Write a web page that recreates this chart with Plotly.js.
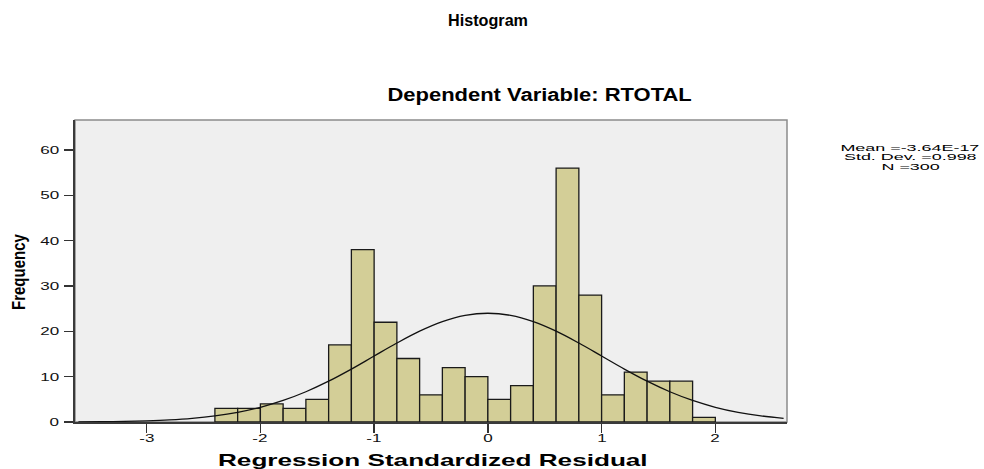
<!DOCTYPE html>
<html>
<head>
<meta charset="utf-8">
<script src="https://cdn.plot.ly/plotly-3.0.1.min.js"></script>
<style>html,body{margin:0;padding:0;background:#fff;}#chart{width:984px;height:469px;}</style>
</head>
<body>
<div id="chart"></div>
<script>
// Histogram bins (width 0.2), centres and counts
const binCenters = [-2.3,-2.1,-1.9,-1.7,-1.5,-1.3,-1.1,-0.9,-0.7,-0.5,-0.3,-0.1,0.1,0.3,0.5,0.7,0.9,1.1,1.3,1.5,1.7,1.9];
const counts     = [3,3,4,3,5,17,38,22,14,6,12,10,5,8,30,56,28,6,11,9,9,1];
const binWidth = 0.2;

// Normal curve
const curveX = [-3.6,-3.4,-3.2,-3.0,-2.8,-2.6,-2.4,-2.2,-2.0,-1.8,-1.6,-1.4,-1.2,-1.0,-0.8,-0.6,-0.4,-0.2,0,0.2,0.4,0.6,0.8,1.0,1.2,1.4,1.6,1.8,2.0,2.2,2.4,2.6];
const curveY = [0.04,0.07,0.14,0.27,0.48,0.82,1.35,2.13,3.25,4.75,6.67,9.0,11.67,14.55,17.41,20.03,22.14,23.51,23.98,23.51,22.14,20.03,17.41,14.55,11.67,9.0,6.67,4.75,3.25,2.13,1.35,0.82];

const xTicks = [-3,-2,-1,0,1,2];
const yTicks = [0,10,20,30,40,50,60];
const titleText = "Histogram";
const subtitleText = "Dependent Variable: RTOTAL";
const xTitleText = "Regression Standardized Residual";
const yTitleText = "Frequency";
const statsLines = ["Mean =-3.64E-17","Std. Dev. =0.998","N =300"];

const font = "Liberation Sans, Arial, sans-serif";
const L = 75, T = 120, PW = 712, PH = 302;
const px = x => (x - L) / PW;
const py = y => (T + PH - y) / PH;

const traces = [
  {type:'bar', x:binCenters, y:counts, width:binWidth,
   marker:{color:'#d3ce97', line:{color:'#1a1a1a', width:1.3}}, hoverinfo:'x+y'},
  {type:'scatter', mode:'lines', x:curveX, y:curveY,
   line:{color:'#111', width:1.3, shape:'spline'}, hoverinfo:'skip'}
];

const axisCommon = {
  ticks:'outside', ticklen:9, tickwidth:1.5, tickcolor:'#333',
  showline:true, linecolor:'#3a3a3a', linewidth:2, mirror:false,
  showgrid:false, zeroline:false, showticklabels:false
};

// annotations: text, placement and horizontal stretch
const annList = [];
const stretch = [];
function addAnn(a, st) { annList.push(Object.assign({showarrow:false, font:{family:font, color:'#000', size:11}}, a)); stretch.push(st || null); }

addAnn({text:'<b>'+titleText+'</b>', xref:'paper', yref:'paper', x:px(488), y:py(20), xanchor:'center', yanchor:'middle', font:{family:font, color:'#000', size:17}}, {w:80, origin:'center'});
addAnn({text:'<b>'+subtitleText+'</b>', xref:'paper', yref:'paper', x:px(540), y:py(94), xanchor:'center', yanchor:'middle', font:{family:font, color:'#000', size:19}}, {w:305, origin:'center'});
addAnn({text:'<b>'+xTitleText+'</b>', xref:'paper', yref:'paper', x:px(433), y:py(460), xanchor:'center', yanchor:'middle', font:{family:font, color:'#000', size:17}}, {w:430, origin:'center'});
addAnn({text:'<b>'+yTitleText+'</b>', xref:'paper', yref:'paper', x:px(18), y:py(272), xanchor:'center', yanchor:'middle', textangle:-90, font:{family:font, color:'#000', size:15}}, {sy:1.25, origin:'center'});
const statY = [147.9, 157.2, 166.5];
statsLines.forEach((s, k) => addAnn({text:s, xref:'paper', yref:'paper', x:px(910.5), y:py(statY[k]), xanchor:'center', yanchor:'middle', font:{family:font, color:'#000', size:9}}, k === 0 ? {w:139, origin:'center', group:'stats'} : {origin:'center', group:'stats'}));
xTicks.forEach(v => addAnn({text:String(v), xref:'x', yref:'paper', x:v, y:py(438), xanchor:'center', yanchor:'middle', font:{family:font, color:'#111', size:11}}, {s:1.55, origin:'center'}));
yTicks.forEach(v => addAnn({text:String(v), xref:'paper', yref:'y', x:px(61), y:v, xanchor:'right', yanchor:'middle', font:{family:font, color:'#111', size:11}}, {s:1.55, origin:'right center'}));

const layout = {
  width:984, height:469,
  margin:{l:L, r:984-L-PW, t:T, b:469-T-PH},
  paper_bgcolor:'#ffffff', plot_bgcolor:'#efefef',
  showlegend:false, bargap:0,
  font:{family:font, color:'#000'},
  xaxis:Object.assign({range:[-3.63,2.63], tickvals:xTicks}, axisCommon),
  yaxis:Object.assign({range:[0,66.6], tickvals:yTicks}, axisCommon),
  shapes:[{type:'rect', xref:'paper', yref:'paper', x0:0, x1:1, y0:0, y1:1, layer:'below',
           line:{color:'#8c8c8c', width:1.5}}],
  annotations: annList
};

function restyleTexts(gd) {
  const groupScale = {};
  stretch.forEach((st, i) => {
    if (!st) return;
    const el = gd.querySelector('g.annotation[data-index="'+i+'"] text.annotation-text');
    if (!el) return;
    el.style.transform = '';
    let sx = st.s || 1;
    if (st.w) { sx = st.w / el.getBoundingClientRect().width; if (st.group) groupScale[st.group] = sx; }
    else if (st.group && groupScale[st.group]) sx = groupScale[st.group];
    const sy = st.sy || 1;
    el.style.transformBox = 'fill-box';
    el.style.transformOrigin = st.origin;
    el.style.transform = 'scale(' + sx + ',' + sy + ')';
  });
}

Plotly.newPlot('chart', traces, layout, {displayModeBar:false, staticPlot:true}).then(gd => {
  restyleTexts(gd);
});
</script>
</body>
</html>
